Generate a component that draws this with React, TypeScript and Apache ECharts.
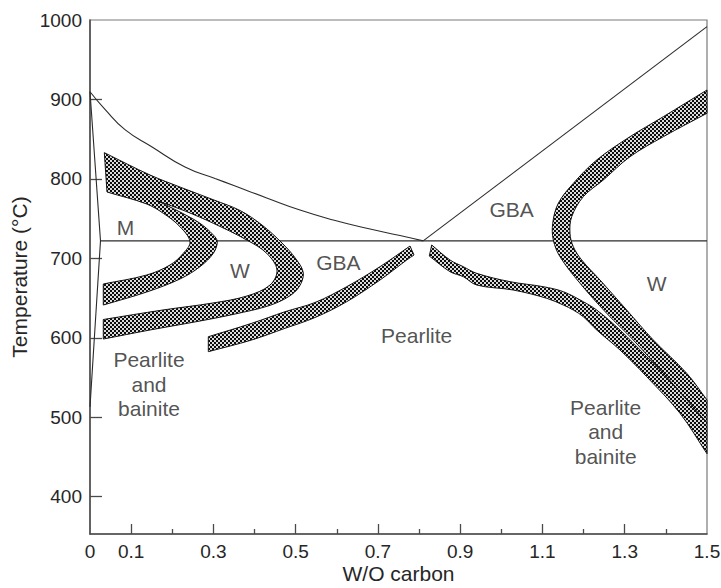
import React, { useEffect, useRef } from "react";
import * as echarts from "echarts";

// ---- axes ----
const xTickLabels = [0, 0.1, 0.3, 0.5, 0.7, 0.9, 1.1, 1.3, 1.5];
const xMajorTicks = [0.1, 0.3, 0.5, 0.7, 0.9, 1.1, 1.3];
const xMinorTicks = [0.2, 0.4, 0.6, 0.8, 1.0, 1.2, 1.4];
const yTickLabels = [400, 500, 600, 700, 800, 900, 1000];
const yTicks = [400, 500, 600, 700, 800, 900];

// ---- thin phase-boundary lines [wt% C, °C] ----
const ae3Line = [
  [0, 909.7], [0.0365, 887.5], [0.085, 862.0], [0.15, 840.5], [0.231, 815.0],
  [0.304, 800.5], [0.348, 792.0], [0.4296, 776.0], [0.5105, 760.8], [0.5915, 748.2],
  [0.6727, 737.8], [0.7536, 728.8], [0.81, 722],
];
const acmLine = [[0.81, 722], [1.5, 991.6]];
const a1Line = [[0.0243, 722], [1.5, 722]];
const leftLine = [[0, 909.7], [0.0255, 722], [0, 513]];

// ---- shaded bands: edges [wt% C, °C] ----
const bandAOuter = [
  [0.0348, 833.0], [0.1459, 804.9], [0.231, 787.3], [0.3015, 773.4], [0.3647, 760.2],
  [0.4182, 741.9], [0.4668, 719.3], [0.5008, 699.1], [0.5186, 681.5], [0.5081, 663.9],
  [0.4814, 651.3], [0.4327, 640.0], [0.3525, 629.9], [0.2674, 621.1], [0.1459, 609.8],
  [0.0323, 598.4],
];
const bandAInner = [
  [0.0323, 623.0], [0.1775, 635.0], [0.299, 643.8], [0.3817, 652.6], [0.4376, 666.4],
  [0.4546, 685.3], [0.4296, 706.3], [0.381, 723.1], [0.2998, 744.1], [0.231, 759.6],
  [0.1653, 772.2],
];
const bandBOuter = [
  [0.1653, 772.2], [0.2188, 758.3], [0.2674, 744.1], [0.2998, 729.4], [0.3095, 720.9],
  [0.2998, 706.3], [0.2674, 689.5], [0.2188, 674.0], [0.1378, 657.6], [0.0323, 641.2],
];
const bandBInner = [
  [0.0323, 667.7], [0.1378, 679.0], [0.1945, 691.6], [0.2268, 706.3], [0.2431, 720.9],
  [0.2188, 739.8], [0.1782, 756.7], [0.1378, 768.4], [0.0413, 783.5],
];
const bandCUpper = [
  [0.2876, 601.3], [0.3931, 618.2], [0.4741, 632.8], [0.547, 644.4], [0.6241, 664.3],
  [0.705, 689.5], [0.778, 715.5],
];
const bandCLower = [
  [0.7877, 704.2], [0.77, 697.9], [0.705, 672.7], [0.6241, 645.4], [0.547, 625.5],
  [0.4741, 611.9], [0.3931, 597.2], [0.2876, 582.5],
];
const bandDUpper = [
  [0.8307, 716.8], [0.8752, 697.9], [0.9075, 689.5], [0.9401, 681.1], [1.0211, 670.6],
  [1.102, 664.3], [1.1507, 658.0], [1.1993, 645.4], [1.2319, 634.9], [1.2885, 609.8],
  [1.3534, 576.2], [1.3938, 555.3], [1.5, 492.7],
];
const bandDLower = [
  [1.5, 454.0], [1.4344, 504.9], [1.3534, 551.0], [1.2885, 584.6], [1.2319, 609.8],
  [1.1993, 626.5], [1.175, 634.9], [1.1507, 641.2], [1.1103, 649.7], [1.0291, 660.1],
  [0.9401, 666.4], [0.9075, 676.9], [0.8752, 683.2], [0.8249, 702.9],
];
const bandEOuter = [
  [1.5, 911.9], [1.3938, 878.3], [1.3128, 853.1], [1.2319, 823.8], [1.175, 794.4],
  [1.1385, 769.3], [1.1249, 744.1], [1.1264, 723.1], [1.1426, 702.0], [1.1913, 668.6],
  [1.2562, 630.8], [1.3208, 597.2], [1.3938, 555.3], [1.5, 492.7],
];
const bandEInner = [
  [1.5, 521.7], [1.4507, 555.3], [1.3695, 597.2], [1.3048, 634.9], [1.2399, 672.7],
  [1.1954, 697.9], [1.175, 714.6], [1.1669, 731.5], [1.1711, 752.4], [1.1993, 777.6],
  [1.2479, 798.6], [1.3128, 827.9], [1.3938, 853.1], [1.5, 882.6],
];

// ---- region labels ----
const regionLabels = [
  { text: "M", c: 0.0863, t: 738.8 },
  { text: "W", c: 0.3647, t: 685.3 },
  { text: "GBA", c: 0.6037, t: 694.7 },
  { text: "GBA", c: 1.0252, t: 761.8 },
  { text: "W", c: 1.3777, t: 668.6 },
  { text: "Pearlite", c: 0.7942, t: 602.5 },
  { text: "Pearlite\nand\nbainite", c: 0.1434, t: 541.2 },
  { text: "Pearlite\nand\nbainite", c: 1.2536, t: 481.4 },
];

const FONT = "'Liberation Sans', Arial, Helvetica, sans-serif";
const TEXT = "#262626";
const LINE = "#2b2b2b";
const AXIS = "#4a4a4a";

function makePattern() {
  const cv = document.createElement("canvas");
  cv.width = 4;
  cv.height = 4;
  const ctx = cv.getContext("2d");
  if (ctx) {
    ctx.fillStyle = "#dcdcdc";
    ctx.fillRect(0, 0, 4, 4);
    ctx.fillStyle = "#0c0c0c";
    ctx.fillRect(0, 0, 2, 2);
    ctx.fillRect(2, 2, 2, 2);
  }
  return { image: cv.toDataURL(), repeat: "repeat", imageWidth: 4, imageHeight: 4 };
}

function bandSeries(runs: number[][][], pattern: any) {
  const data = runs.reduce((acc: number[][], r) => acc.concat(r), []);
  return {
    type: "custom",
    silent: true,
    z: 3,
    data,
    renderItem: (params: any, api: any) => {
      if (params.dataIndex !== 0) return null;
      const pts: number[][] = [];
      runs.forEach((run) => {
        const px = run.map((p) => api.coord(p));
        pts.push(px[0]);
        px.forEach((p: number[]) => pts.push(p));
        pts.push(px[px.length - 1]);
      });
      return {
        type: "polygon",
        shape: { points: pts, smooth: 0.35 },
        style: { fill: pattern, stroke: "#141414", lineWidth: 1 },
      };
    },
  };
}

function lineSeries(data: number[][], smooth: number | boolean) {
  return {
    type: "line",
    data,
    smooth,
    symbol: "none",
    showSymbol: false,
    silent: true,
    z: 2,
    lineStyle: { color: LINE, width: 1.1 },
  };
}

export default function App() {
  const ref = useRef<HTMLDivElement>(null);
  useEffect(() => {
    if (!ref.current) return;
    const chart = echarts.init(ref.current, undefined, { renderer: "svg" });
    const pattern = makePattern();
    const option: any = {
      animation: false,
      backgroundColor: "#ffffff",
      grid: {
        left: 90,
        right: 14,
        top: 20,
        bottom: 54,
        containLabel: false,
        outerBoundsMode: "none",
        show: true,
        borderColor: "#7a7a7a",
        borderWidth: 1.2,
        backgroundColor: "transparent",
      },
      xAxis: [
        {
          type: "value",
          min: 0,
          max: 1.5,
          position: "bottom",
          name: "W/O carbon",
          nameLocation: "middle",
          nameGap: 29,
          nameMoveOverlap: false,
          nameTextStyle: { fontSize: 21, color: TEXT, fontFamily: FONT },
          axisLine: { show: true, onZero: false, lineStyle: { color: AXIS, width: 1.5 } },
          axisTick: {
            show: true,
            inside: true,
            length: 10,
            customValues: xMajorTicks,
            lineStyle: { color: AXIS, width: 1.3 },
          },
          axisLabel: {
            customValues: xTickLabels,
            formatter: (v: number) => (v === 0 ? "0" : v.toFixed(1)),
            fontSize: 19,
            color: TEXT,
            fontFamily: FONT,
            margin: 8,
          },
          splitLine: { show: false },
        },
        {
          type: "value",
          min: 0,
          max: 1.5,
          position: "bottom",
          axisLine: { show: false },
          axisTick: {
            show: true,
            inside: true,
            length: 5,
            customValues: xMinorTicks,
            lineStyle: { color: AXIS, width: 1.3 },
          },
          axisLabel: { show: false },
          splitLine: { show: false },
        },
      ],
      yAxis: {
        type: "value",
        min: 353,
        max: 1000,
        name: "Temperature (°C)",
        nameLocation: "middle",
        nameGap: 60,
        nameMoveOverlap: false,
        nameTextStyle: { fontSize: 21, color: TEXT, fontFamily: FONT },
        axisLine: { show: true, onZero: false, lineStyle: { color: AXIS, width: 1.5 } },
        axisTick: {
          show: true,
          inside: true,
          length: 12,
          customValues: yTicks,
          lineStyle: { color: AXIS, width: 1.3 },
        },
        axisLabel: {
          customValues: yTickLabels,
          formatter: (v: number) => String(Math.round(v)),
          fontSize: 19,
          color: TEXT,
          fontFamily: FONT,
          margin: 8,
        },
        splitLine: { show: false },
      },
      series: [
        lineSeries(ae3Line, 0.5),
        lineSeries(acmLine, false),
        lineSeries(a1Line, false),
        lineSeries(leftLine, false),
        bandSeries([bandAOuter, bandAInner, bandBOuter, bandBInner], pattern),
        bandSeries([bandCUpper, bandCLower], pattern),
        bandSeries([bandEOuter, bandEInner], pattern),
        bandSeries([bandDUpper, bandDLower], pattern),
        {
          type: "scatter",
          silent: true,
          z: 5,
          symbolSize: 0.1,
          itemStyle: { color: "transparent" },
          data: regionLabels.map((l) => ({ name: l.text, value: [l.c, l.t] })),
          label: {
            show: true,
            position: "inside",
            formatter: (p: any) => p.name,
            fontSize: 21,
            lineHeight: 24.5,
            color: TEXT,
            fontFamily: FONT,
            align: "center",
          },
        },
      ],
    };
    chart.setOption(option);
    return () => chart.dispose();
  }, []);
  return (
    <div
      ref={ref}
      style={{ position: "fixed", left: 0, top: 0, width: 721, height: 588, background: "#fff" }}
    />
  );
}
